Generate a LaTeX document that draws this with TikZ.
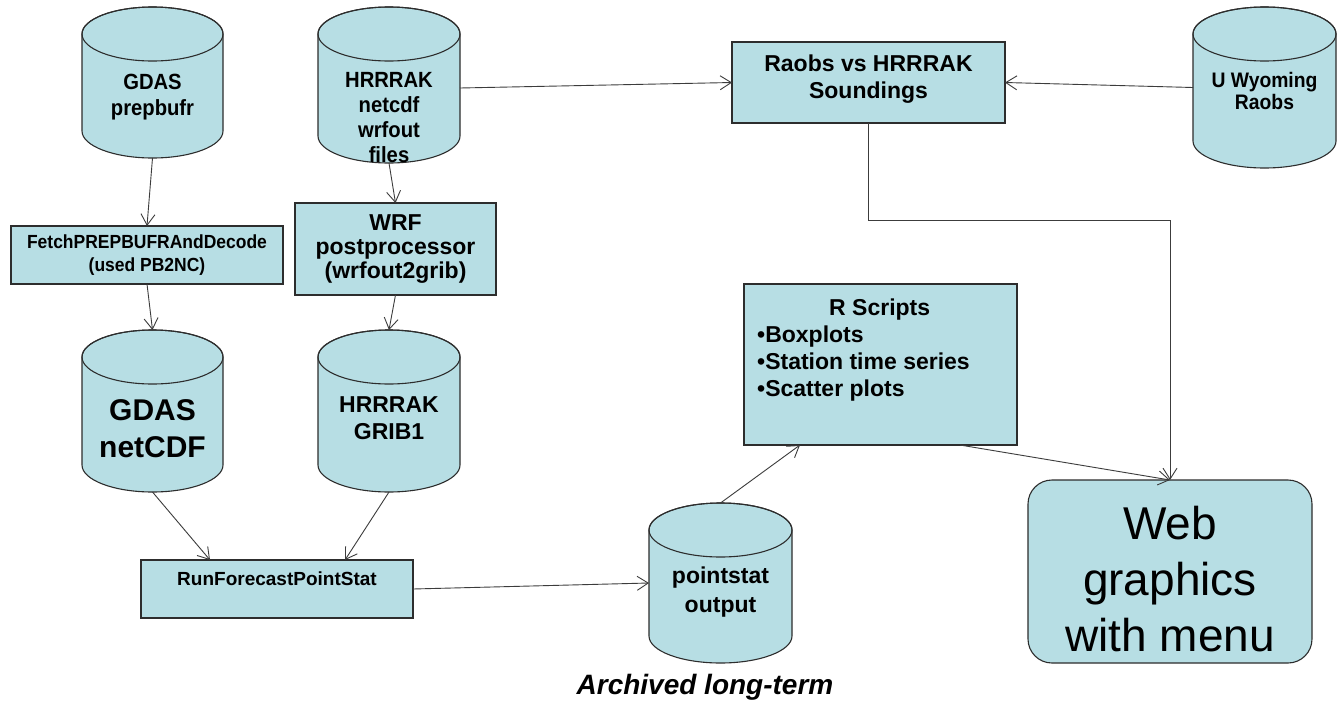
\documentclass[tikz,border=0pt]{standalone}
\usepackage{fontspec}
\setmainfont{Liberation Sans}
\newfontfamily\cnd{Liberation Sans}[FakeStretch=0.92]
\usetikzlibrary{arrows.meta}
\definecolor{boxblue}{RGB}{183,222,228}
\definecolor{edge}{RGB}{45,45,45}
\definecolor{wire}{RGB}{60,60,60}
\tikzset{
  cylshape/.style={fill=boxblue, draw=edge, line width=1.1pt},
  box/.style={cylshape, rectangle, inner sep=0pt, outer sep=0pt},
  conn/.style={draw=wire, line width=0.9pt, -{Straight Barb[length=11pt,width=14pt]}},
  lbl/.style={align=center, inner sep=0pt, text=black},
}
% #1 name, #2 x1, #3 x2, #4 ytop, #5 ybot, #6 ellipse half height
\newcommand\dbcyl[6]{%
  \pgfmathsetmacro\cylcx{(#2+#3)/2}%
  \pgfmathsetmacro\cylrx{(#3-#2)/2}%
  \pgfmathsetmacro\cylcy{(#4+#5)/2}%
  \filldraw[cylshape] (#2,#4+#6) -- (#2,#5-#6)
     arc[start angle=180,end angle=0,x radius=\cylrx,y radius=#6]
     -- (#3,#4+#6)
     arc[start angle=0,end angle=-180,x radius=\cylrx,y radius=#6] -- cycle;
  \draw[cylshape, fill=none] (\cylcx,#4+#6) ellipse[x radius=\cylrx, y radius=#6];
  \node[inner sep=0pt, outer sep=0pt, minimum width={(#3-#2)*1pt}, minimum height={(#5-#4)*1pt}] (#1) at (\cylcx,\cylcy) {};
}
\begin{document}
\begin{tikzpicture}[x=1pt,y=-1pt]
\fill[white] (0,0) rectangle (1342,702);
\useasboundingbox (0,0) rectangle (1342,702);

% cylinders
\dbcyl{gp}{82}{223}{7}{158}{27}
\dbcyl{hn}{318}{460}{7}{163}{27}
\dbcyl{uw}{1193}{1336}{7}{168}{27}
\dbcyl{gn}{82}{223}{330}{492}{27}
\dbcyl{hg}{318}{460}{330}{492}{27}
\dbcyl{ps}{649}{792}{503}{663}{27}

\node[lbl, font=\cnd\bfseries\fontsize{22}{26}\selectfont] (gp-t) at (152.5,97) {GDAS\\prepbufr};
\node[lbl, font=\cnd\bfseries\fontsize{22}{25}\selectfont] (hn-t) at (389,117.5) {HRRRAK\\netcdf\\wrfout\\files};
\node[lbl, font=\cnd\bfseries\fontsize{21}{22}\selectfont] (uw-t) at (1264.5,91) {U Wyoming\\Raobs};
\node[lbl, font=\bfseries\fontsize{30}{37}\selectfont] (gn-t) at (152.5,428.5) {GDAS\\netCDF};
\node[lbl, font=\bfseries\fontsize{23}{27}\selectfont] (hg-t) at (389,418.5) {HRRRAK\\GRIB1};
\node[lbl, font=\bfseries\fontsize{23}{29}\selectfont] (ps-t) at (720.5,592.5) {pointstat\\output};

% boxes
\node[box, minimum width=272pt, minimum height=58pt, align=center,
      font=\cnd\bfseries\fontsize{19}{23}\selectfont] (fetch) at (147,255) {FetchPREPBUFRAndDecode\\(used PB2NC)};
\node[box, minimum width=201pt, minimum height=92pt, align=center,
      font=\bfseries\fontsize{23}{24}\selectfont] (wrf) at (395.5,249) {WRF\\postprocessor\\(wrfout2grib)};
\node[box, minimum width=272pt, minimum height=58pt] (rfp) at (277,589) {};
\node[lbl, font=\bfseries\fontsize{19}{23}\selectfont] (rfp-t) at (277,579) {RunForecastPointStat};
\node[box, minimum width=273pt, minimum height=81pt] (raobs) at (868.5,82.5) {};
\node[lbl, font=\bfseries\fontsize{23}{27}\selectfont] (raobs-t) at (868.5,79) {Raobs vs HRRRAK\\Soundings};
\node[box, minimum width=273pt, minimum height=161pt] (rs) at (880.5,364.5) {};
\node[lbl, align=left, anchor=west, font=\bfseries\fontsize{23}{27}\selectfont] (rs-t) at (757,350)
  {\hspace*{72pt}R Scripts\\•Boxplots\\•Station time series\\•Scatter plots};
\node[box, rounded corners=24pt, minimum width=284pt, minimum height=183pt] (web) at (1170,571.5) {};
\node[lbl, font=\fontsize{46}{56}\selectfont] (web-t) at (1170,579) {Web\\graphics\\with menu};
\node[lbl, font=\bfseries\itshape\fontsize{28}{32}\selectfont] (arch) at (705,687) {Archived long-term};

% connectors
\draw[conn] (gp.south) -- (fetch.north);
\draw[conn] (fetch.south) -- (gn.north);
\draw[conn] (hn.south) -- (wrf.north);
\draw[conn] (wrf.south) -- (hg.north);
\draw[conn] (gn.south) -- ([xshift=69pt]rfp.north west);
\draw[conn] (hg.south) -- ([xshift=204pt]rfp.north west);
\draw[conn] (rfp.east) -- (ps.west);
\draw[conn] (ps.north) -- ([xshift=56pt]rs.south west);
\draw[conn] ([xshift=216pt]rs.south west) -- (web.north);
\draw[conn] ([yshift=-3pt]hn.east) -- (raobs.west);
\draw[conn] (uw.west) -- (raobs.east);
\draw[conn] (raobs.south) -- ++(0,97) -| (web.north);
\end{tikzpicture}
\end{document}
